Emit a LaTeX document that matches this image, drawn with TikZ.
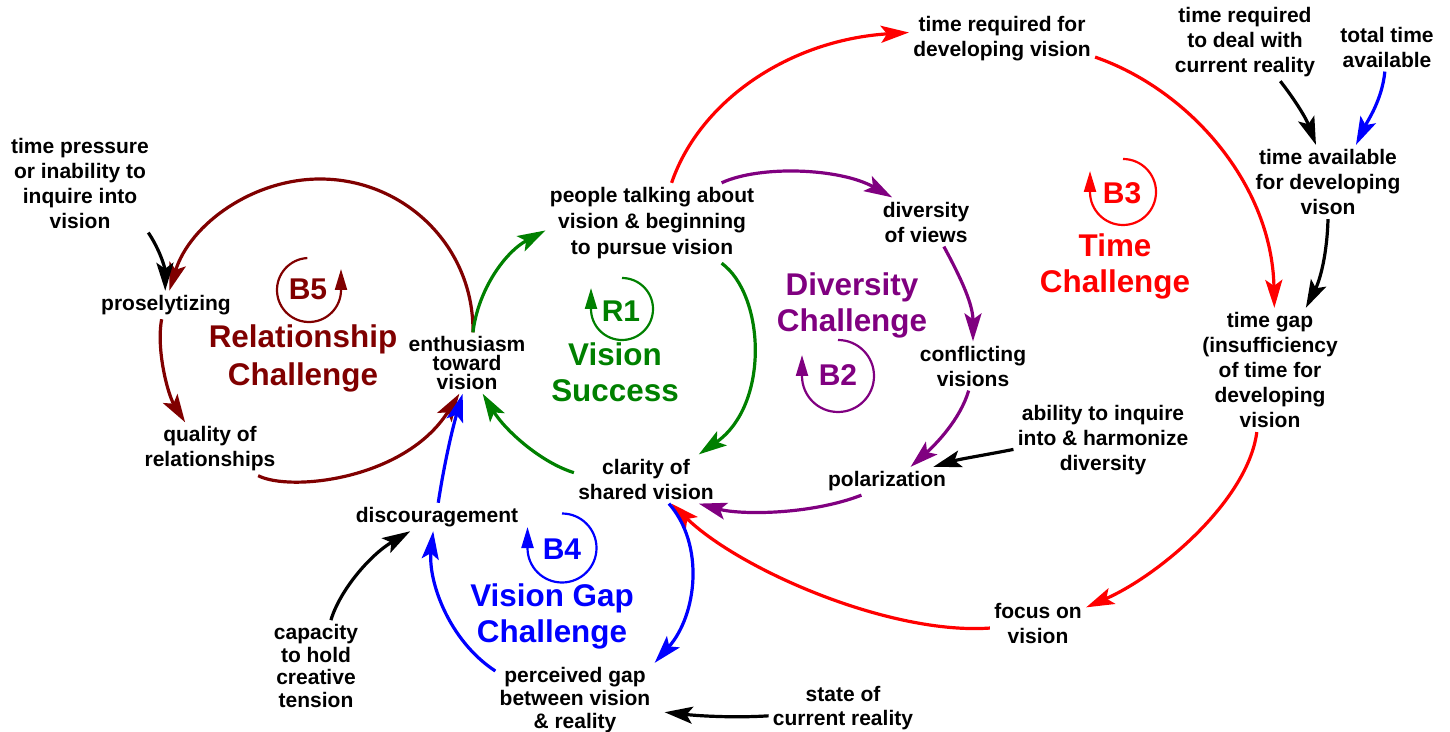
\documentclass[tikz,border=0pt]{standalone}
\usepackage{fontspec}
\setmainfont{Liberation Sans}
\usetikzlibrary{arrows.meta}
\definecolor{drk}{RGB}{128,0,0}
\definecolor{grn}{RGB}{0,128,0}
\definecolor{pur}{RGB}{128,0,128}
\definecolor{rd}{RGB}{255,0,0}
\definecolor{bl}{RGB}{0,0,255}
\begin{document}
\begin{tikzpicture}[x=0.5pt,y=-0.5pt,
  lbl/.style={inner sep=2pt, align=center, font=\fontsize{10.5}{12.5}\selectfont\bfseries},
  lead/.style={font=\fontsize{10.5}{#1}\selectfont\bfseries},
  bigl/.style={inner sep=0pt, align=center, font=\fontsize{15.7}{18}\selectfont\bfseries},
  loopl/.style={inner sep=0pt, font=\fontsize{15}{18}\selectfont\bfseries},
  con/.style={line width=1.6pt, -{Stealth[length=14pt,width=8.5pt,inset=3pt]}},
  mk/.style={line width=1.1pt, -{Triangle[length=10.5pt,width=6pt]}}]
\useasboundingbox (0,0) rectangle (1450,732);

% concept nodes
\node[lbl] (tpress) at (80,183) {time pressure\\or inability to\\inquire into\\vision};
\node[lbl] (pros) at (166,305) {proselytizing};
\node[lbl] (qual) at (210,449) {quality of\\relationships};
\node[lbl,lead=9.3] (enth) at (467,363) {enthusiasm\\toward\\vision};
\node[lbl,lead=13] (people) at (652,223) {people talking about\\vision \& beginning\\to pursue vision};
\node[lbl] (divv) at (926,222) {diversity\\of views};
\node[lbl] (conf) at (973,366) {conflicting\\visions};
\node[lbl] (polar) at (887,481) {polarization};
\node[lbl] (ability) at (1103,440) {ability to inquire\\into \& harmonize\\diversity};
\node[lbl] (clarity) at (646,479) {clarity of\\shared vision};
\node[lbl] (disc) at (437,517) {discouragement};
\node[lbl,lead=11.25] (capac) at (316,666) {capacity\\to hold\\creative\\tension};
\node[lbl,lead=11.5] (pgap) at (575,700) {perceived gap\\between vision\\\& reality};
\node[lbl,lead=12] (state) at (843,708) {state of\\current reality};
\node[lbl] (focus) at (1038,623) {focus on\\vision};
\node[lbl] (tgap) at (1270,370) {time gap\\(insufficiency\\of time for\\developing\\vision};
\node[lbl] (tavail) at (1328,182) {time available\\for developing\\vison};
\node[lbl] (treqcr) at (1245,42) {time required\\to deal with\\current reality};
\node[lbl] (ttotal) at (1387,47) {total time\\available};
\node[lbl] (treqdev) at (1002,39) {time required for\\developing vision};

% loop titles
\node[bigl,drk,font=\fontsize{15.7}{19}\selectfont\bfseries] (relc) at (303,358) {Relationship\\Challenge};
\node[bigl,grn] (visc) at (615,372) {Vision\\Success};
\node[bigl,pur] (divc) at (852,305) {Diversity\\Challenge};
\node[bigl,rd] (timec) at (1115,266) {Time\\Challenge};
\node[bigl,bl] (gapc) at (552,616) {Vision Gap\\Challenge};

% loop markers
\coordinate (b5c) at (309,290);
\coordinate (r1c) at (622,309);
\coordinate (b2c) at (838,376);
\coordinate (b3c) at (1123,192);
\coordinate (b4c) at (562,548);
\draw[mk,drk] ([shift={(93:16pt)}]b5c) arc[start angle=93,end angle=360,radius=16pt] -- ++(0pt,10.5pt);
\draw[mk,grn] ([shift={(90:15.5pt)}]r1c) arc[start angle=90,end angle=-180,radius=15.5pt] -- ++(0pt,10.5pt);
\draw[mk,pur] ([shift={(90:18pt)}]b2c) arc[start angle=90,end angle=-180,radius=18pt] -- ++(0pt,10.5pt);
\draw[mk,rd] ([shift={(90:16.5pt)}]b3c) arc[start angle=90,end angle=-180,radius=16.5pt] -- ++(0pt,10.5pt);
\draw[mk,bl] ([shift={(90:17.25pt)}]b4c) arc[start angle=90,end angle=-180,radius=17.25pt] -- ++(0pt,10.5pt);
\node[loopl,drk] (b5l) at (308,289) {B5};
\node[loopl,grn] (r1l) at (621,311) {R1};
\node[loopl,pur] (b2l) at (838,375) {B2};
\node[loopl,rd] (b3l) at (1122,193) {B3};
\node[loopl,bl] (b4l) at (562,549) {B4};

% B5 relationship loop
\draw[con,drk] (enth.79) .. controls (474,246) and (404,179) .. (320,179) .. controls (253,179) and (190,224) .. (pros.77);
\draw[con,drk] (pros.-107) .. controls (156,350) and (168,395) .. (qual.133);
\draw[con,drk] (qual.-29) .. controls (290,492) and (405,480) .. (enth.-104);
% R1
\draw[con,grn] (enth.79) .. controls (478,290) and (505,252) .. (people.184);
\draw[con,grn] (people.-30) .. controls (765,295) and (770,405) .. (clarity.25);
\draw[con,grn] (clarity.175) .. controls (540,462) and (505,430) .. (enth.-63);
% B3
\draw[con,rd] (people.64) .. controls (700,100) and (790,40) .. (treqdev.176);
\draw[con,rd] (treqdev.-11) .. controls (1190,90) and (1272,185) .. (tgap.86);
\draw[con,rd] (tgap.-102) .. controls (1248,500) and (1160,575) .. (focus.18);
\draw[con,rd] (focus.186) .. controls (890,635) and (740,570) .. (clarity.-44);
% B2
\draw[con,pur] (people.30) .. controls (760,165) and (840,168) .. (divv.144);
\draw[con,pur] (divv.-54) .. controls (962,280) and (973,305) .. (conf.north);
\draw[con,pur] (conf.-100) .. controls (960,420) and (935,445) .. (polar.31);
\draw[con,pur] (polar.209) .. controls (810,515) and (740,515) .. (clarity.-25);
% B4
\draw[con,bl] (disc.85) .. controls (444,465) and (452,430) .. (enth.-98);
\draw[con,bl] (clarity.-47) .. controls (705,545) and (697,615) .. (pgap.25);
\draw[con,bl] (pgap.160) .. controls (448,640) and (428,580) .. (disc.-105);
\draw[con,bl] (ttotal.-95) .. controls (1382,100) and (1368,120) .. (tavail.53);
% external
\draw[con] (tpress.-36) .. controls (160,250) and (165,268) .. (pros.93);
\draw[con] (treqcr.-48) .. controls (1295,100) and (1306,118) .. (tavail.108);
\draw[con] (tavail.south) .. controls (1327,255) and (1320,280) .. (tgap.60);
\draw[con] (ability.186) .. controls (985,455) and (960,459) .. (polar.17);
\draw[con] (capac.72) .. controls (340,590) and (370,555) .. (disc.208);
\draw[con,shorten >=5pt] (state.186) .. controls (735,718) and (700,716) .. (pgap.-8);
\end{tikzpicture}
\end{document}
